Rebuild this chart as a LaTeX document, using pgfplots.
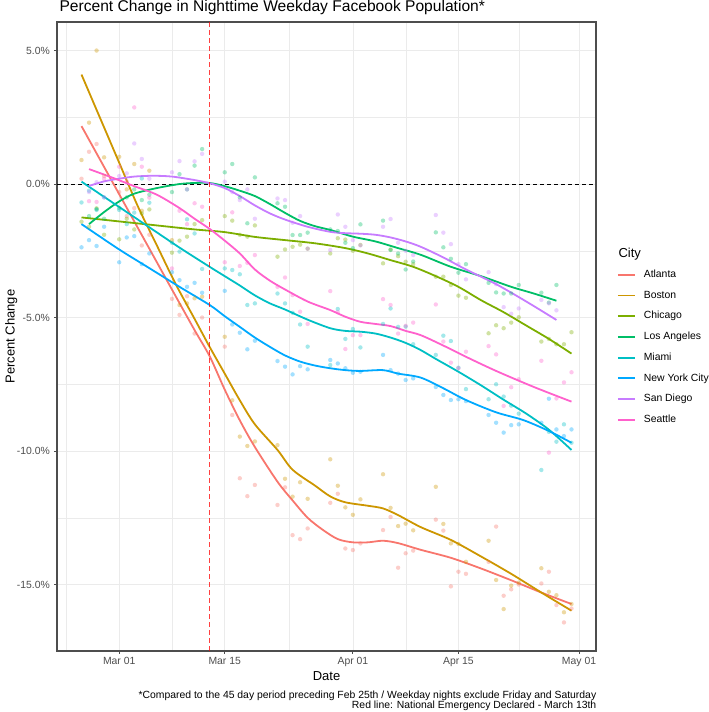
\documentclass[border=0pt]{standalone}
\usepackage{pgfplots}
\pgfplotsset{compat=1.18}
\usepackage{pgfplotstable}
\usepackage{fontspec}
\setmainfont{Liberation Sans}
\definecolor{colAtlanta}{RGB}{248,118,109}
\definecolor{colBoston}{RGB}{205,150,0}
\definecolor{colChicago}{RGB}{124,174,0}
\definecolor{colLosAngeles}{RGB}{0,190,103}
\definecolor{colMiami}{RGB}{0,191,196}
\definecolor{colNewYork}{RGB}{0,169,255}
\definecolor{colSanDiego}{RGB}{199,124,255}
\definecolor{colSeattle}{RGB}{255,97,204}
\definecolor{colGrid}{RGB}{235,235,235}
\definecolor{colBorder}{RGB}{77,77,77}
\definecolor{colTick}{RGB}{77,77,77}
\pgfplotstableread{
day atl bos chi la mia nyc sd sea
-5 0.2 0.9 -1.41 nan -0.69 -2.37 nan nan
-4 1.21 2.3 -1.6 -1.2 -0.25 -2.1 -0.3 -0.64
-3 1.5 5.0 -0.91 -0.94 -0.97 -2.32 0.07 -0.67
-2 0.3 1.0 -1.9 -1.3 -0.5 -1.6 -0.5 0.2
0 -0.3 1.02 -2.07 -0.9 -0.97 -2.93 0.3 0.65
1 -1.2 -0.2 -1.3 -0.5 -1.5 -2.0 0.4 0.1
2 -0.9 0.75 -1.7 -0.2 -1.07 -1.95 1.52 2.87
3 -2.3 -1.0 -1.1 -0.6 0.21 -3.0 0.94 0.65
4 -1.9 0.5 -0.95 -0.4 -0.7 -2.6 0.2 -0.51
7 -4.3 -2.1 -2.57 -0.3 -2.2 -3.3 0.44 -3.16
8 -4.9 -4.53 -2.12 0.37 -2.53 -3.6 0.86 -1.0
9 -4.2 -4.47 -1.97 -0.2 -1.32 -3.85 -0.2 -1.5
10 -5.6 -4.28 -1.5 0.69 -1.85 -3.7 0.85 -0.72
11 -5.0 -4.22 -1.35 1.31 -3.18 -4.07 1.13 -0.85
14 -6.09 -5.72 -1.2 0.44 -3.16 -4.0 0.09 -2.93
15 -8.65 -8.1 -1.37 0.75 -3.22 -5.26 -0.3 -1.06
16 -11.02 -9.46 -1.9 -0.5 -3.38 -5.57 -0.6 -3.07
17 -11.69 -9.81 -1.97 -1.47 -4.53 -6.19 -0.2 -2.95
18 -11.27 -9.64 -1.55 0.25 -4.47 -5.87 -1.3 -2.66
21 -12.02 -9.78 -2.72 -0.72 -4.1 -6.63 -0.54 -3.85
22 -11.36 -11.04 -2.45 -0.85 -4.47 -6.84 -0.6 -3.5
23 -13.15 -11.71 -2.35 -1.91 -4.82 -7.13 -1.45 -4.16
24 -13.3 -11.17 -2.27 -1.91 -5.26 -6.82 -1.2 -4.78
25 -12.9 -11.79 -2.42 -1.82 -6.09 -6.94 -2.42 -5.24
28 -11.94 -10.31 -2.6 -1.7 -6.78 -6.59 -2.47 -4.01
29 -11.6 -11.3 -2.03 -1.76 -4.68 -6.72 -1.14 -4.8
30 -13.65 -12.11 -2.08 -2.2 -5.8 -6.9 -1.6 -6.18
31 -13.71 -12.39 -2.5 -2.4 -5.43 -7.07 -2.1 -5.66
32 -13.46 -11.81 -2.28 -1.51 -6.12 -7.03 -2.3 -5.66
35 -12.96 -10.87 -2.97 -1.37 -5.24 -6.4 -1.6 -4.31
36 -12.47 -12.13 -2.45 -2.47 -4.66 -6.97 -1.31 -4.53
37 -14.37 -12.81 -2.7 -2.6 -5.35 -7.1 -2.2 -5.6
38 -13.83 -12.72 -2.91 -3.2 -5.34 -7.34 -2.5 -5.31
39 -13.73 -12.97 -3.0 -2.9 -6.0 -7.28 -2.66 -5.19
42 -12.57 -11.34 -3.47 -1.81 -6.4 -7.6 -1.16 -4.51
43 -12.98 -12.73 -3.47 -2.37 -5.68 -7.9 -1.82 -5.9
44 -15.07 -13.46 -3.78 -2.8 -5.88 -8.09 -2.25 -6.69
45 -14.52 -13.48 -4.18 -3.32 -6.88 -8.06 -3.0 -6.9
46 -14.6 -14.15 -4.26 -3.0 -7.68 -8.13 -3.57 -6.28
49 -14.15 -13.36 -5.59 -3.7 -8.06 -8.65 -3.3 -6.07
50 -12.83 -14.83 -5.29 -4.06 -7.5 -8.94 -3.75 -6.38
51 -15.42 -15.92 -5.4 -4.1 -7.96 -9.31 -4.61 -8.31
52 -15.18 -15.04 -5.19 -4.1 -8.3 -9.03 -4.86 -7.61
53 -15.0 -14.93 -4.99 -3.78 -8.6 -9.0 -4.66 -7.31
56 -14.96 -14.39 -5.9 -4.07 -10.71 -8.94 -4.34 -6.62
57 -14.52 -15.27 -5.8 -4.44 -9.28 -8.04 -4.47 -10.06
58 -15.77 -15.4 -6.0 -3.78 -9.65 -9.19 -4.73 -8.03
59 -16.42 -16.04 -6.0 nan -9.0 -9.44 nan -7.43
60 -15.9 -15.73 -5.55 nan -9.69 -9.19 nan -7.05
}\pts
\pgfplotsset{
  pts/.style={only marks, mark=*, mark size=2.2bp, forget plot, color=#1,
    mark options={fill=#1, draw opacity=0, fill opacity=0.36}},
  fit/.style={color=#1, line width=1.8bp, smooth, tension=0.5, no markers},
}
\begin{document}
\begin{tikzpicture}
\useasboundingbox (0,0) rectangle (709bp,712bp);
\begin{axis}[
  at={(57bp,61bp)}, anchor=south west,
  scale only axis, width=539bp, height=629bp,
  xmin=-8.25, xmax=63.25, ymin=-17.49, ymax=6.07,
  axis line style={draw=colBorder, line width=1.1bp},
  tick style={draw=colBorder, line width=0.9bp},
  xtick pos=bottom, ytick pos=left,
  tick align=outside, major tick length=2.75bp, minor tick length=0pt,
  xtick={0,14,31,45,61}, xticklabels={Mar 01,Mar 15,Apr 01,Apr 15,May 01},
  ytick={-15,-10,-5,0,5}, yticklabels={-15.0\%,-10.0\%,-5.0\%,0.0\%,5.0\%},
  minor xtick={-7,7,22.5,38,53}, minor ytick={-12.5,-7.5,-2.5,2.5},
  grid=both,
  major grid style={draw=colGrid, line width=0.6bp},
  minor grid style={draw=colGrid, line width=0.3bp},
  ticklabel style={font=\fontsize{10.4bp}{12bp}\selectfont, text=colTick, inner sep=0pt},
  xticklabel style={anchor=north, yshift=-3.5bp},
  yticklabel style={anchor=east, xshift=-4.2bp},
  legend style={at={(1.039,0.6058)}, anchor=north west, draw=none, fill=none,
    inner sep=0pt, outer sep=0pt, column sep=8bp,
    font=\fontsize{10.4bp}{12bp}\selectfont,
    nodes={inner xsep=0pt, inner ysep=0pt, text height=7.6bp, text depth=2.2bp},
    row sep=10.9bp},
  legend cell align=left,
  legend image code/.code={\draw[#1, line width=1.8bp] (0bp,0bp) -- (17bp,0bp);},
]
\addplot[pts=colAtlanta] table[x=day,y=atl]{\pts};
\addplot[pts=colBoston] table[x=day,y=bos]{\pts};
\addplot[pts=colChicago] table[x=day,y=chi]{\pts};
\addplot[pts=colLosAngeles] table[x=day,y=la]{\pts};
\addplot[pts=colMiami] table[x=day,y=mia]{\pts};
\addplot[pts=colNewYork] table[x=day,y=nyc]{\pts};
\addplot[pts=colSanDiego] table[x=day,y=sd]{\pts};
\addplot[pts=colSeattle] table[x=day,y=sea]{\pts};
\addplot[forget plot, color=black, line width=0.6bp, dash pattern=on 4bp off 3bp] coordinates {(-8.25,0) (63.25,0)};
% smooth fits
\addplot[fit=colAtlanta] coordinates {(-5,2.17)(-2,0.64)(1,-0.89)(4,-2.42)(7,-3.95)(10,-5.47)(12,-6.45)(14,-7.7)(16,-8.85)(18,-9.85)(21,-11.15)(23,-11.85)(25,-12.5)(27,-12.95)(29,-13.3)(31,-13.42)(33,-13.42)(35,-13.36)(37,-13.45)(40,-13.7)(44,-14.0)(48,-14.4)(52,-14.84)(56,-15.3)(60,-15.73)};
\addlegendentry{Atlanta}
\addplot[fit=colBoston] coordinates {(-5,4.1)(-2.5,2.45)(0,0.8)(2.5,-0.85)(5,-2.3)(7.5,-3.75)(10,-5.05)(12,-6.1)(14,-7.1)(16,-8.1)(18,-9.0)(21,-9.96)(23,-10.7)(26,-11.3)(28,-11.7)(30,-11.92)(33,-12.05)(35,-12.15)(37,-12.4)(40,-12.85)(44,-13.33)(48,-13.95)(52,-14.6)(56,-15.3)(60,-15.98)};
\addlegendentry{Boston}
\addplot[fit=colChicago] coordinates {(-5,-1.25)(0,-1.4)(5,-1.55)(10,-1.7)(14,-1.8)(18,-1.98)(22,-2.1)(26,-2.22)(30,-2.4)(33,-2.6)(36,-2.85)(39,-3.1)(42,-3.45)(45,-3.85)(48,-4.35)(51,-4.8)(54,-5.3)(57,-5.8)(60,-6.35)};
\addlegendentry{Chicago}
\addplot[fit=colLosAngeles] coordinates {(-4,-1.5)(-2,-1.05)(0,-0.65)(2,-0.36)(5,-0.15)(8,0.0)(10,0.04)(12,0.04)(14,-0.08)(16,-0.25)(18,-0.45)(20,-0.75)(22,-1.08)(24,-1.38)(26,-1.58)(28,-1.72)(31,-1.97)(34,-2.15)(37,-2.4)(40,-2.65)(44,-3.1)(48,-3.45)(52,-3.85)(55,-4.1)(58,-4.37)};
\addlegendentry{Los Angeles}
\addplot[fit=colMiami] coordinates {(-5,0.09)(0,-0.86)(4,-1.62)(8,-2.38)(12,-3.1)(14,-3.45)(16,-3.8)(18,-4.17)(20,-4.47)(22,-4.7)(25,-5.08)(28,-5.4)(30,-5.5)(32,-5.53)(34,-5.6)(36,-5.75)(38,-5.95)(40,-6.22)(42,-6.55)(45,-7.03)(48,-7.54)(51,-8.08)(54,-8.6)(57,-9.2)(60,-9.96)};
\addlegendentry{Miami}
\addplot[fit=colNewYork] coordinates {(-5,-1.5)(0,-2.45)(4,-3.15)(8,-3.85)(12,-4.53)(14,-4.95)(16,-5.35)(18,-5.75)(20,-6.1)(22,-6.42)(24,-6.65)(26,-6.8)(28,-6.9)(30,-6.97)(32,-7.0)(35,-6.97)(37,-7.1)(40,-7.25)(43,-7.65)(46,-8.09)(50,-8.55)(53.6,-8.84)(57,-9.25)(60,-9.69)};
\addlegendentry{New York City}
\addplot[fit=colSanDiego] coordinates {(-4,-0.07)(-2,0.1)(0,0.2)(2,0.28)(4.5,0.31)(7,0.28)(10,0.15)(12,0.03)(14,-0.15)(16,-0.45)(18,-0.8)(20,-1.1)(22,-1.33)(25,-1.6)(28,-1.79)(30,-1.84)(32,-1.86)(34,-1.9)(36,-2.0)(38,-2.15)(40,-2.35)(43,-2.75)(46,-3.2)(50,-3.75)(54,-4.4)(58,-5.09)};
\addlegendentry{San Diego}
\addplot[fit=colSeattle] coordinates {(-4,0.56)(-1,0.25)(2,-0.08)(5,-0.4)(8,-0.9)(10,-1.3)(12,-1.68)(14,-2.12)(16,-2.6)(18,-3.2)(20,-3.62)(22,-3.95)(25,-4.4)(28,-4.72)(30,-4.97)(32,-5.16)(34,-5.24)(36,-5.32)(38,-5.5)(40,-5.66)(43,-6.05)(46,-6.47)(50,-7.0)(55,-7.6)(60,-8.15)};
\addlegendentry{Seattle}
\addplot[forget plot, color=red, opacity=0.75, line width=1.3bp, dash pattern=on 4.5bp off 3.5bp] coordinates {(12,-17.49) (12,6.07)};
\end{axis}
\node[anchor=base west, font=\fontsize{15.6bp}{18bp}\selectfont] at (56bp,700.3bp) {Percent Change in Nighttime Weekday Facebook Population*};
\node[anchor=base, font=\fontsize{13bp}{15bp}\selectfont] at (326.5bp,31.3bp) {Date};
\node[anchor=base, rotate=90, font=\fontsize{13bp}{15bp}\selectfont] at (14.5bp,375.5bp) {Percent Change};
\node[anchor=base west, font=\fontsize{13bp}{15bp}\selectfont] at (615bp,454.3bp) {City};
\node[anchor=base east, font=\fontsize{10.4bp}{12bp}\selectfont, inner sep=0pt] at (596.5bp,14bp) {*Compared to the 45 day period preceding Feb 25th / Weekday nights exclude Friday and Saturday};
\node[anchor=base east, font=\fontsize{10.4bp}{12bp}\selectfont, inner sep=0pt] at (596.5bp,3.3bp) {Red line: National Emergency Declared - March 13th};
\end{tikzpicture}
\end{document}
